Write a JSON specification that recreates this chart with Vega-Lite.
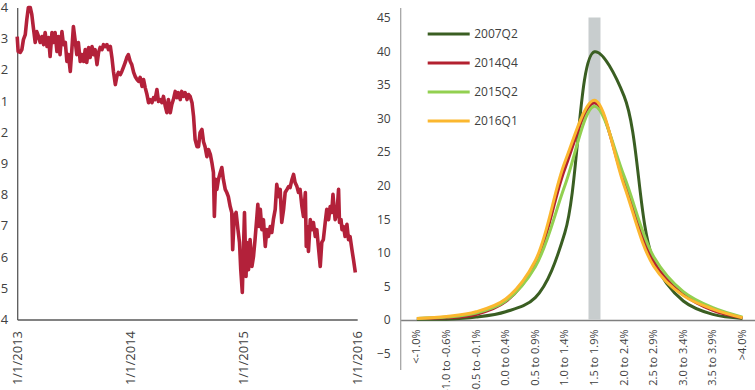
{
  "$schema": "https://vega.github.io/schema/vega-lite/v6.json",
  "padding": {"left": -10.8, "top": 1.5, "right": 0, "bottom": 0},
  "background": "white",
  "spacing": 43,
  "bounds": "flush",
  "config": {
    "view": {"stroke": null},
    "axis": {"grid": false, "ticks": false, "title": null, "labelFont": "Open Sans", "labelColor": "#404040", "domainColor": "#595959", "labelOverlap": false},
    "axisY": {"labelOverlap": false},
    "legend": {"labelFont": "Open Sans"}
  },
  "hconcat": [
    {
      "width": 340,
      "height": 312,
      "data": {"values": [
        {"d":"2013-01-01","v":2.307},{"d":"2013-01-04","v":2.259},{"d":"2013-01-11","v":2.256},{"d":"2013-01-16","v":2.265},{"d":"2013-01-21","v":2.297},{"d":"2013-01-27","v":2.313},{"d":"2013-02-01","v":2.362},{"d":"2013-02-06","v":2.400},{"d":"2013-02-12","v":2.400},{"d":"2013-02-17","v":2.378},{"d":"2013-02-22","v":2.336},{"d":"2013-02-28","v":2.288},
        {"d":"2013-03-05","v":2.323},{"d":"2013-03-11","v":2.307},{"d":"2013-03-16","v":2.288},{"d":"2013-03-22","v":2.307},{"d":"2013-03-27","v":2.281},{"d":"2013-04-01","v":2.320},{"d":"2013-04-07","v":2.275},{"d":"2013-04-12","v":2.304},{"d":"2013-04-17","v":2.243},{"d":"2013-04-23","v":2.320},{"d":"2013-04-28","v":2.288},
        {"d":"2013-05-03","v":2.320},{"d":"2013-05-09","v":2.259},{"d":"2013-05-14","v":2.307},{"d":"2013-05-19","v":2.249},{"d":"2013-05-25","v":2.323},{"d":"2013-05-30","v":2.281},{"d":"2013-06-05","v":2.288},{"d":"2013-06-10","v":2.227},{"d":"2013-06-15","v":2.249},{"d":"2013-06-21","v":2.195},{"d":"2013-06-26","v":2.265},
        {"d":"2013-07-01","v":2.339},{"d":"2013-07-07","v":2.291},{"d":"2013-07-12","v":2.249},{"d":"2013-07-17","v":2.288},{"d":"2013-07-23","v":2.227},{"d":"2013-07-28","v":2.249},{"d":"2013-08-03","v":2.227},{"d":"2013-08-08","v":2.265},{"d":"2013-08-13","v":2.224},{"d":"2013-08-19","v":2.272},{"d":"2013-08-24","v":2.240},{"d":"2013-08-30","v":2.275},
        {"d":"2013-09-04","v":2.249},{"d":"2013-09-09","v":2.265},{"d":"2013-09-15","v":2.217},{"d":"2013-09-20","v":2.256},{"d":"2013-09-25","v":2.272},{"d":"2013-10-01","v":2.265},{"d":"2013-10-06","v":2.281},{"d":"2013-10-11","v":2.275},{"d":"2013-10-17","v":2.281},{"d":"2013-10-22","v":2.265},{"d":"2013-10-28","v":2.275},
        {"d":"2013-11-02","v":2.240},{"d":"2013-11-07","v":2.195},{"d":"2013-11-13","v":2.153},{"d":"2013-11-18","v":2.179},{"d":"2013-11-23","v":2.192},{"d":"2013-11-29","v":2.185},{"d":"2013-12-04","v":2.195},{"d":"2013-12-09","v":2.208},{"d":"2013-12-15","v":2.224},{"d":"2013-12-20","v":2.240},{"d":"2013-12-25","v":2.249},{"d":"2013-12-31","v":2.227},
        {"d":"2014-01-05","v":2.217},{"d":"2014-01-11","v":2.192},{"d":"2014-01-16","v":2.179},{"d":"2014-01-22","v":2.169},{"d":"2014-01-27","v":2.163},{"d":"2014-02-01","v":2.176},{"d":"2014-02-07","v":2.147},{"d":"2014-02-12","v":2.169},{"d":"2014-02-17","v":2.144},{"d":"2014-02-23","v":2.121},{"d":"2014-02-28","v":2.095},
        {"d":"2014-03-05","v":2.105},{"d":"2014-03-11","v":2.095},{"d":"2014-03-16","v":2.111},{"d":"2014-03-21","v":2.105},{"d":"2014-03-27","v":2.137},{"d":"2014-04-01","v":2.099},{"d":"2014-04-07","v":2.105},{"d":"2014-04-12","v":2.095},{"d":"2014-04-17","v":2.115},{"d":"2014-04-23","v":2.083},{"d":"2014-04-28","v":2.063},
        {"d":"2014-05-03","v":2.105},{"d":"2014-05-09","v":2.063},{"d":"2014-05-14","v":2.089},{"d":"2014-05-19","v":2.105},{"d":"2014-05-25","v":2.131},{"d":"2014-05-30","v":2.111},{"d":"2014-06-04","v":2.127},{"d":"2014-06-10","v":2.105},{"d":"2014-06-15","v":2.131},{"d":"2014-06-21","v":2.115},{"d":"2014-06-26","v":2.127},
        {"d":"2014-07-02","v":2.105},{"d":"2014-07-07","v":2.121},{"d":"2014-07-12","v":2.115},{"d":"2014-07-18","v":2.095},{"d":"2014-07-23","v":2.051},{"d":"2014-07-28","v":1.977},{"d":"2014-08-03","v":1.954},{"d":"2014-08-08","v":1.954},{"d":"2014-08-13","v":1.999},{"d":"2014-08-19","v":2.009},{"d":"2014-08-24","v":1.970},{"d":"2014-08-29","v":1.954},
        {"d":"2014-09-04","v":1.922},{"d":"2014-09-09","v":1.945},{"d":"2014-09-15","v":1.929},{"d":"2014-09-20","v":1.903},{"d":"2014-09-25","v":1.871},{"d":"2014-09-28","v":1.730},{"d":"2014-10-02","v":1.849},{"d":"2014-10-06","v":1.817},{"d":"2014-10-11","v":1.849},{"d":"2014-10-17","v":1.871},{"d":"2014-10-22","v":1.887},{"d":"2014-10-27","v":1.849},
        {"d":"2014-11-02","v":1.817},{"d":"2014-11-07","v":1.807},{"d":"2014-11-12","v":1.794},{"d":"2014-11-18","v":1.762},{"d":"2014-11-23","v":1.743},{"d":"2014-11-26","v":1.624},{"d":"2014-12-01","v":1.730},{"d":"2014-12-07","v":1.743},{"d":"2014-12-13","v":1.688},{"d":"2014-12-18","v":1.647},{"d":"2014-12-22","v":1.560},{"d":"2014-12-27","v":1.487},{"d":"2014-12-31","v":1.634},
        {"d":"2015-01-03","v":1.743},{"d":"2015-01-08","v":1.538},{"d":"2015-01-11","v":1.647},{"d":"2015-01-16","v":1.560},{"d":"2015-01-21","v":1.656},{"d":"2015-01-27","v":1.570},{"d":"2015-02-01","v":1.602},{"d":"2015-02-06","v":1.656},{"d":"2015-02-12","v":1.730},{"d":"2015-02-15","v":1.769},{"d":"2015-02-19","v":1.698},{"d":"2015-02-23","v":1.753},{"d":"2015-02-28","v":1.688},
        {"d":"2015-03-05","v":1.720},{"d":"2015-03-11","v":1.634},{"d":"2015-03-16","v":1.688},{"d":"2015-03-21","v":1.666},{"d":"2015-03-27","v":1.698},{"d":"2015-04-01","v":1.679},{"d":"2015-04-06","v":1.720},{"d":"2015-04-12","v":1.753},{"d":"2015-04-17","v":1.833},{"d":"2015-04-23","v":1.794},{"d":"2015-04-28","v":1.817},
        {"d":"2015-05-03","v":1.711},{"d":"2015-05-09","v":1.753},{"d":"2015-05-14","v":1.807},{"d":"2015-05-20","v":1.817},{"d":"2015-05-25","v":1.826},{"d":"2015-05-30","v":1.823},{"d":"2015-06-05","v":1.849},{"d":"2015-06-10","v":1.865},{"d":"2015-06-15","v":1.839},{"d":"2015-06-21","v":1.826},{"d":"2015-06-26","v":1.807},
        {"d":"2015-07-01","v":1.817},{"d":"2015-07-07","v":1.762},{"d":"2015-07-12","v":1.730},{"d":"2015-07-18","v":1.807},{"d":"2015-07-21","v":1.634},{"d":"2015-07-25","v":1.698},{"d":"2015-07-28","v":1.618},{"d":"2015-08-03","v":1.720},{"d":"2015-08-08","v":1.688},{"d":"2015-08-13","v":1.711},{"d":"2015-08-19","v":1.666},{"d":"2015-08-24","v":1.688},{"d":"2015-08-29","v":1.634},
        {"d":"2015-09-04","v":1.570},{"d":"2015-09-09","v":1.647},{"d":"2015-09-14","v":1.656},{"d":"2015-09-20","v":1.711},{"d":"2015-09-25","v":1.753},{"d":"2015-10-01","v":1.720},{"d":"2015-10-06","v":1.762},{"d":"2015-10-11","v":1.743},{"d":"2015-10-15","v":1.801},{"d":"2015-10-19","v":1.753},{"d":"2015-10-22","v":1.720},{"d":"2015-10-28","v":1.743},
        {"d":"2015-11-02","v":1.817},{"d":"2015-11-05","v":1.711},{"d":"2015-11-10","v":1.720},{"d":"2015-11-13","v":1.688},{"d":"2015-11-18","v":1.698},{"d":"2015-11-23","v":1.666},{"d":"2015-11-29","v":1.705},{"d":"2015-12-04","v":1.656},{"d":"2015-12-09","v":1.666},{"d":"2015-12-15","v":1.624},{"d":"2015-12-20","v":1.592},{"d":"2015-12-26","v":1.551}
      ]},
      "mark": {"type": "line", "color": "#b3213a", "strokeWidth": 3.6, "strokeJoin": "round"},
      "encoding": {
        "x": {
          "field": "d", "type": "temporal",
          "scale": {"type": "utc", "domain": [{"year": 2013, "month": 1, "date": 1, "utc": true}, {"year": 2016, "month": 1, "date": 1, "utc": true}]},
          "axis": {
            "values": [{"year": 2013, "month": 1, "date": 1, "utc": true}, {"year": 2014, "month": 1, "date": 1, "utc": true}, {"year": 2015, "month": 1, "date": 1, "utc": true}, {"year": 2016, "month": 1, "date": 1, "utc": true}],
            "format": "%-m/%-d/%Y", "labelAngle": 270, "labelFontSize": 13, "labelPadding": 11, "labelFlush": false, "labelOverlap": false, "domainWidth": 1.3
          }
        },
        "y": {
          "field": "v", "type": "quantitative",
          "scale": {"domain": [1.4, 2.4], "nice": false, "zero": false},
          "axis": {"values": [1.4, 1.5, 1.6, 1.7, 1.8, 1.9, 2.0, 2.1, 2.2, 2.3, 2.4], "format": ".2~f", "labelFontSize": 13, "labelPadding": 9.5, "labelOverlap": false, "domainWidth": 1.3}
        }
      }
    },
    {
      "width": 359,
      "height": 362,
      "encoding": {
        "x": {
          "field": "cat", "type": "nominal",
          "scale": {"type": "point", "padding": 0.564, "domain": ["<-1.0%", "-1.0 to -0.6%", "-0.5 to -0.1%", "0.0 to 0.4%", "0.5 to 0.9%", "1.0 to 1.4%", "1.5 to 1.9%", "2.0 to 2.4%", "2.5 to 2.9%", "3.0 to 3.4%", "3.5 to 3.9%", ">4.0%"]},
          "axis": {"offset": -49.5, "labelAngle": 270, "labelFontSize": 11, "labelPadding": 9, "labelOverlap": false, "domainColor": "#7f7f7f", "domainWidth": 1.5}
        },
        "y": {
          "field": "v", "type": "quantitative",
          "scale": {"domain": [-7.4, 46.5], "nice": false, "zero": false},
          "axis": {"values": [-5, 0, 5, 10, 15, 20, 25, 30, 35, 40, 45], "labelFontSize": 12, "labelPadding": 10, "labelOverlap": false, "labelBound": false, "domainColor": "#a6a6a6", "domainWidth": 1.3}
        }
      },
      "layer": [
        {
          "data": {"values": [{"cat": "1.5 to 1.9%", "v": 45, "lo": 0}]},
          "mark": {"type": "bar", "width": 12, "color": "#c8cdce"},
          "encoding": {
            "y2": {"field": "lo"}
          }
        },
        {
          "data": {"values": [
            {"cat":"<-1.0%","s":"2007Q2","v":0.1},{"cat":"-1.0 to -0.6%","s":"2007Q2","v":0.1},{"cat":"-0.5 to -0.1%","s":"2007Q2","v":0.4},{"cat":"0.0 to 0.4%","s":"2007Q2","v":1.2},{"cat":"0.5 to 0.9%","s":"2007Q2","v":3.3},{"cat":"1.0 to 1.4%","s":"2007Q2","v":13},{"cat":"1.5 to 1.9%","s":"2007Q2","v":39.9},{"cat":"2.0 to 2.4%","s":"2007Q2","v":33.3},{"cat":"2.5 to 2.9%","s":"2007Q2","v":8.8},{"cat":"3.0 to 3.4%","s":"2007Q2","v":2.8},{"cat":"3.5 to 3.9%","s":"2007Q2","v":0.8},{"cat":">4.0%","s":"2007Q2","v":0.2},
            {"cat":"<-1.0%","s":"2014Q4","v":0.2},{"cat":"-1.0 to -0.6%","s":"2014Q4","v":0.3},{"cat":"-0.5 to -0.1%","s":"2014Q4","v":0.8},{"cat":"0.0 to 0.4%","s":"2014Q4","v":2.7},{"cat":"0.5 to 0.9%","s":"2014Q4","v":8.3},{"cat":"1.0 to 1.4%","s":"2014Q4","v":22.5},{"cat":"1.5 to 1.9%","s":"2014Q4","v":32.3},{"cat":"2.0 to 2.4%","s":"2014Q4","v":20.5},{"cat":"2.5 to 2.9%","s":"2014Q4","v":8.6},{"cat":"3.0 to 3.4%","s":"2014Q4","v":3.8},{"cat":"3.5 to 3.9%","s":"2014Q4","v":1.4},{"cat":">4.0%","s":"2014Q4","v":0.3},
            {"cat":"<-1.0%","s":"2015Q2","v":0.2},{"cat":"-1.0 to -0.6%","s":"2015Q2","v":0.4},{"cat":"-0.5 to -0.1%","s":"2015Q2","v":1.0},{"cat":"0.0 to 0.4%","s":"2015Q2","v":2.8},{"cat":"0.5 to 0.9%","s":"2015Q2","v":7.9},{"cat":"1.0 to 1.4%","s":"2015Q2","v":20},{"cat":"1.5 to 1.9%","s":"2015Q2","v":31.8},{"cat":"2.0 to 2.4%","s":"2015Q2","v":21.4},{"cat":"2.5 to 2.9%","s":"2015Q2","v":9.4},{"cat":"3.0 to 3.4%","s":"2015Q2","v":4.2},{"cat":"3.5 to 3.9%","s":"2015Q2","v":1.8},{"cat":">4.0%","s":"2015Q2","v":0.4},
            {"cat":"<-1.0%","s":"2016Q1","v":0.2},{"cat":"-1.0 to -0.6%","s":"2016Q1","v":0.5},{"cat":"-0.5 to -0.1%","s":"2016Q1","v":1.2},{"cat":"0.0 to 0.4%","s":"2016Q1","v":3.1},{"cat":"0.5 to 0.9%","s":"2016Q1","v":8.8},{"cat":"1.0 to 1.4%","s":"2016Q1","v":23.5},{"cat":"1.5 to 1.9%","s":"2016Q1","v":32.7},{"cat":"2.0 to 2.4%","s":"2016Q1","v":20},{"cat":"2.5 to 2.9%","s":"2016Q1","v":8},{"cat":"3.0 to 3.4%","s":"2016Q1","v":3.6},{"cat":"3.5 to 3.9%","s":"2016Q1","v":1.6},{"cat":">4.0%","s":"2016Q1","v":0.3}
          ]},
          "mark": {"type": "line", "interpolate": "catmull-rom", "strokeWidth": 3},
          "encoding": {
            "color": {
              "field": "s", "type": "nominal",
              "scale": {"domain": ["2007Q2", "2014Q4", "2015Q2", "2016Q1"], "range": ["#3a5e22", "#b3202f", "#92d050", "#fbb72f"]},
              "legend": {"title": null, "orient": "none", "legendX": 409, "legendY": 4, "symbolType": "stroke", "symbolSize": 1764, "symbolStrokeWidth": 3, "labelFontSize": 12, "labelColor": "#404040", "labelOffset": 3, "rowPadding": -13, "padding": 0}
            },
            "order": {"field": "s"}
          }
        }
      ]
    }
  ]
}
